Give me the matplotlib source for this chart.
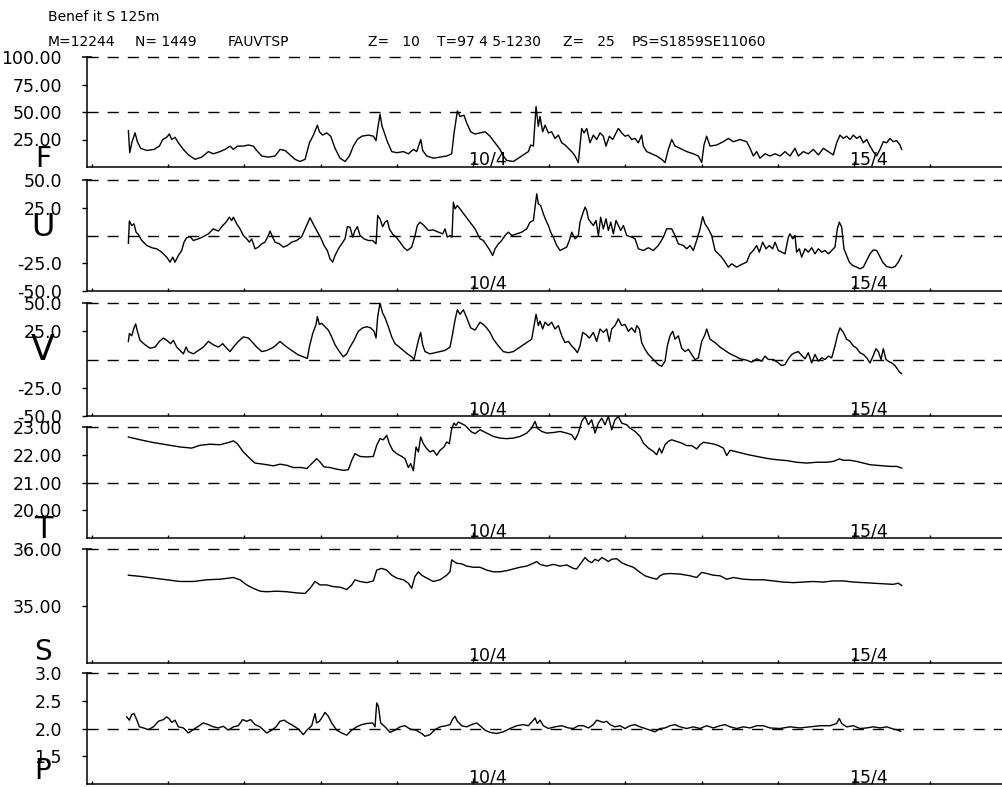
import matplotlib
matplotlib.use("Agg")
import matplotlib.pyplot as plt
from matplotlib.ticker import FixedLocator, NullFormatter

plt.rcParams['font.family'] = ['DejaVu Sans']

# ---------------- data (time in days of April 1997) ----------------
F_days = [5.477, 5.495, 5.525, 5.565, 5.595, 5.639, 5.718, 5.814, 5.884, 5.928,
          5.980, 6.015, 6.046, 6.090, 6.133, 6.199, 6.265, 6.352, 6.440, 6.527,
          6.593, 6.680, 6.746, 6.811, 6.855, 6.908, 6.986, 7.052, 7.118, 7.161,
          7.227, 7.314, 7.402, 7.468, 7.533, 7.599, 7.664, 7.730, 7.796, 7.853,
          7.905, 7.958, 7.984, 8.027, 8.080, 8.132, 8.189, 8.255, 8.321, 8.377,
          8.430, 8.482, 8.539, 8.627, 8.692, 8.727, 8.749, 8.780, 8.806, 8.832,
          8.876, 8.933, 8.999, 9.086, 9.152, 9.217, 9.261, 9.314, 9.340, 9.392,
          9.480, 9.567, 9.655, 9.720, 9.751, 9.795, 9.830, 9.882, 9.917, 9.970,
          10.026,
          10.092, 10.158, 10.223, 10.289, 10.354, 10.398, 10.442, 10.529, 10.595, 10.661,
          10.726, 10.757, 10.792, 10.827, 10.857, 10.879, 10.914, 10.945, 10.989, 11.032,
          11.076, 11.120, 11.164, 11.207, 11.251, 11.295, 11.339, 11.382, 11.426, 11.457,
          11.492, 11.535, 11.579, 11.623, 11.667, 11.710, 11.745, 11.789, 11.833, 11.885,
          11.907, 11.951, 11.995, 12.038, 12.082, 12.126, 12.170, 12.213, 12.235, 12.279,
          12.345, 12.410, 12.476, 12.520, 12.563, 12.607, 12.651, 12.716, 12.804, 12.891,
          12.957, 13.001, 13.031, 13.066, 13.110, 13.198, 13.285, 13.351, 13.416, 13.504,
          13.591, 13.635, 13.679, 13.722, 13.766, 13.832, 13.897, 13.963, 14.029, 14.094,
          14.160, 14.225, 14.269, 14.335, 14.400, 14.466, 14.532, 14.597, 14.663, 14.728,
          14.772, 14.816, 14.860, 14.903, 14.947, 14.991, 15.035, 15.078, 15.122, 15.166,
          15.210, 15.253, 15.297, 15.341, 15.384, 15.428, 15.472, 15.516, 15.559, 15.603,
          15.625]
F_vals = [33, 13, 23, 31, 23, 17, 15, 16, 19, 25,
          27, 30, 25, 27, 22, 16, 11, 7, 9, 14,
          12, 14, 16, 19, 16, 19, 19, 20, 19, 15,
          10, 9, 10, 16, 15, 11, 7, 5, 7, 22,
          29, 38, 32, 29, 31, 28, 17, 8, 5, 10,
          19, 25, 28, 29, 28, 24, 35, 48, 37, 32,
          23, 14, 13, 14, 12, 16, 14, 25, 15, 10,
          8, 9, 10, 12, 31, 51, 46, 47, 40, 32,
          30,
          31, 32, 28, 22, 16, 10, 6, 5, 8, 11,
          14, 20, 19, 55, 37, 46, 32, 38, 31, 32,
          26, 29, 22, 20, 17, 14, 10, 4, 35, 31,
          35, 22, 29, 25, 31, 28, 19, 28, 25, 32,
          35, 31, 28, 29, 25, 26, 22, 29, 19, 14,
          12, 10, 7, 4, 16, 25, 19, 17, 14, 12,
          10, 4, 20, 28, 19, 20, 23, 26, 23, 25,
          23, 17, 10, 14, 8, 12, 10, 12, 10, 14,
          10, 17, 10, 14, 12, 16, 11, 17, 14, 11,
          22, 29, 26, 28, 25, 29, 26, 28, 22, 25,
          19, 14, 10, 16, 23, 22, 26, 23, 24, 20,
          16]

U_days = [5.477, 5.490, 5.521, 5.551, 5.578, 5.608, 5.652, 5.718, 5.783, 5.849,
          5.914, 5.980, 6.024, 6.059, 6.089, 6.133, 6.177, 6.207, 6.242, 6.286,
          6.330, 6.396, 6.461, 6.527, 6.592, 6.658, 6.715, 6.759, 6.802, 6.833,
          6.855, 6.899, 6.942, 6.986, 7.030, 7.065, 7.095, 7.139, 7.183, 7.227,
          7.270, 7.314, 7.336, 7.371, 7.402, 7.458, 7.511, 7.563, 7.620, 7.686,
          7.752, 7.817, 7.861, 7.905, 7.948, 8.001, 8.045, 8.088, 8.123, 8.158,
          8.189, 8.233, 8.276, 8.320, 8.351, 8.386, 8.421, 8.451, 8.482, 8.517,
          8.569, 8.626, 8.683, 8.727, 8.749, 8.779, 8.814, 8.845, 8.876, 8.902,
          8.946, 8.998, 9.042, 9.094, 9.138, 9.195, 9.239, 9.269, 9.304, 9.357,
          9.414, 9.479, 9.545, 9.602, 9.632, 9.663, 9.698, 9.724, 9.742, 9.764,
          9.794, 9.829, 9.895, 9.960, 10.026,
          10.092, 10.136, 10.179, 10.223, 10.258, 10.289, 10.333, 10.376, 10.420, 10.464,
          10.508, 10.573, 10.639, 10.704, 10.748, 10.792, 10.814, 10.836, 10.857, 10.888,
          10.923, 10.958, 10.989, 11.019, 11.054, 11.098, 11.142, 11.186, 11.229, 11.264,
          11.295, 11.339, 11.382, 11.404, 11.439, 11.470, 11.492, 11.514, 11.544, 11.579,
          11.614, 11.645, 11.675, 11.710, 11.745, 11.776, 11.807, 11.842, 11.877, 11.907,
          11.938, 11.973, 12.017, 12.082, 12.126, 12.170, 12.235, 12.301, 12.366, 12.432,
          12.498, 12.541, 12.607, 12.651, 12.694, 12.760, 12.804, 12.848, 12.891, 12.935,
          12.979, 13.014, 13.044, 13.088, 13.132, 13.176, 13.219, 13.263, 13.307, 13.351,
          13.394, 13.460, 13.526, 13.591, 13.635, 13.679, 13.722, 13.757, 13.801, 13.845,
          13.889, 13.932, 13.963, 14.007, 14.050, 14.094, 14.138, 14.160, 14.195, 14.225,
          14.247, 14.282, 14.313, 14.357, 14.400, 14.444, 14.488, 14.532, 14.575, 14.619,
          14.663, 14.707, 14.750, 14.781, 14.807, 14.838, 14.868, 14.903, 14.938, 14.982,
          15.035, 15.078, 15.122, 15.166, 15.210, 15.253, 15.297, 15.332, 15.376, 15.428,
          15.494, 15.538, 15.581, 15.625]
U_vals = [-7, 13, 9, 10.5, 3, 1, -4.5, -9, -11, -12,
          -15, -19.5, -24, -19.5, -24, -18, -13.5, -6, -2, -1,
          -4.5, -3, -1, 1.5, 6, 4, 9, 12, 16.5, 13.5,
          16.5, 10.5, 6, 0, -3, -6, -3, -12, -10.5, -7.5,
          -6, 0, 4, -1.5, -6, -7.5, -10.5, -9, -6, -4.5,
          -1, 9, 16, 10, 4.5, -2, -9, -13.5, -21, -24,
          -18, -12, -7.5, -3, 8, 7.5, -1.5, 4.5, 8, 0,
          -3, -4.5, -4.5, -7.5, 18, 15, 8, 12, 13.5, 6,
          1, -2, -6, -11, -13.5, -10.5, 0, 9, 12, 9,
          4.5, 5, 3, 1.5, 6, -1.5, 0, -1.5, 30, 24,
          27, 24, 18, 12, 6,
          -3, -4.5, -9, -13.5, -18, -12, -7.5, -4.5, 0, 3,
          0, 1.5, 3, 6, 12, 13.5, 25.5, 37.5, 28.5, 27,
          19.5, 13.5, 9, 3, -1.5, -9, -13.5, -12, -10.5, -4.5,
          3, -3, 0, 12, 19.5, 25.5, 22.5, 15, 12, 9,
          13.5, 0, 16.5, 6, 15, 4.5, 12, 1.5, 13.5, 9,
          4.5, 9, 0, -1.5, -3, -12, -13.5, -11, -13.5, -9,
          -1.5, 6, 6, 0, -7.5, -9, -12, -9, -13.5, -4.5,
          6, 17, 10.5, 6, 0, -13.5, -16.5, -19.5, -24, -28.5,
          -25.5, -28.5, -26, -24, -16.5, -13.5, -9, -15, -6, -12,
          -9, -12, -6, -13.5, -15, -16.5, -1.5, 1.5, -3, 0,
          -15, -12, -19.5, -12, -15, -11, -16.5, -12, -15, -13.5,
          -16.5, -13.5, -10.5, 6, 12, 7.5, -12, -18, -24, -27,
          -28.5, -30, -28.5, -22.5, -16.5, -13, -13.5, -18, -24, -28,
          -29, -28, -24, -18]

V_days = [5.477, 5.490, 5.521, 5.551, 5.573, 5.595, 5.630, 5.696, 5.761, 5.827,
          5.884, 5.936, 5.980, 6.032, 6.067, 6.111, 6.155, 6.199, 6.234, 6.264,
          6.330, 6.396, 6.461, 6.527, 6.592, 6.658, 6.715, 6.767, 6.811, 6.855,
          6.920, 6.986, 7.052, 7.095, 7.161, 7.227, 7.292, 7.358, 7.402, 7.467,
          7.520, 7.577, 7.642, 7.708, 7.773, 7.826, 7.852, 7.896, 7.940, 7.957,
          7.983, 8.014, 8.058, 8.101, 8.145, 8.189, 8.246, 8.298, 8.342, 8.386,
          8.438, 8.495, 8.552, 8.604, 8.657, 8.701, 8.727, 8.749, 8.779, 8.814,
          8.845, 8.889, 8.933, 8.976, 9.033, 9.086, 9.138, 9.195, 9.226, 9.252,
          9.283, 9.313, 9.339, 9.370, 9.435, 9.501, 9.567, 9.632, 9.698, 9.733,
          9.764, 9.794, 9.829, 9.873, 9.917, 9.969, 10.026,
          10.092, 10.136, 10.179, 10.223, 10.267, 10.333, 10.398, 10.464, 10.529, 10.595,
          10.661, 10.726, 10.770, 10.801, 10.827, 10.857, 10.879, 10.914, 10.945, 10.989,
          11.032, 11.076, 11.120, 11.164, 11.207, 11.251, 11.295, 11.339, 11.369, 11.404,
          11.439, 11.483, 11.527, 11.579, 11.623, 11.667, 11.710, 11.754, 11.789, 11.820,
          11.863, 11.907, 11.951, 11.995, 12.038, 12.082, 12.126, 12.148, 12.183, 12.213,
          12.257, 12.301, 12.345, 12.388, 12.432, 12.476, 12.520, 12.550, 12.585, 12.620,
          12.651, 12.694, 12.738, 12.782, 12.826, 12.869, 12.913, 12.957, 13.001, 13.044,
          13.066, 13.110, 13.176, 13.241, 13.307, 13.373, 13.438, 13.504, 13.591, 13.657,
          13.722, 13.788, 13.832, 13.876, 13.941, 14.007, 14.050, 14.094, 14.138, 14.182,
          14.225, 14.269, 14.313, 14.357, 14.400, 14.444, 14.488, 14.532, 14.575, 14.619,
          14.663, 14.707, 14.750, 14.781, 14.816, 14.860, 14.903, 14.947, 14.991, 15.035,
          15.078, 15.122, 15.166, 15.210, 15.253, 15.288, 15.319, 15.354, 15.384, 15.419,
          15.450, 15.494, 15.538, 15.568, 15.595, 15.625]
V_vals = [16, 23, 21, 28, 31.5, 25, 17, 13, 10, 11,
          16, 19, 17, 14, 17, 11, 8, 5, 11, 7,
          5, 8, 11, 16, 13, 11, 14, 10, 7, 11,
          16, 20, 19, 16, 11, 7, 8, 10, 12, 16,
          13, 10, 7, 4, 2.4, 1, 11, 23, 31, 38,
          31, 32, 29, 26, 20, 13, 7, 2.4, 5, 11,
          17, 25, 28, 29, 28, 25, 19, 38, 50, 41,
          37, 29, 20, 14, 11, 8, 5, 2.4, 0, 8,
          17, 24, 13, 7, 5, 6, 7, 8, 11, 23,
          35, 44, 40, 44, 37, 28, 26,
          33, 31, 28, 24, 18, 12, 7, 6, 7, 10,
          13, 16, 18, 30, 40, 30, 34, 27, 33, 30,
          33, 27, 30, 21, 15, 16, 12, 9, 6, 12,
          24, 22, 19, 24, 16, 27, 24, 27, 16, 27,
          30, 36, 30, 31, 25, 28, 24, 30, 27, 15,
          9, 4.5, 1.5, -1.5, -4.5, -6, -1.5, 12, 21, 25,
          18, 21, 10, 7, 9, 4.5, 0, 1.5, 16, 22,
          27, 18, 15, 11, 8, 5, 3, 0.6, -0.6, -2.4,
          0.6, -1.5, 3, 0, 0, -3, -5.4, -4.5, 0.6, 4.5,
          6, 7, 3.6, 0.6, 6, -3, 4.5, -1.5, 1.5, 0,
          3, 1.5, 12, 21, 28, 24, 18, 16, 12, 10,
          6, 4.5, 1.5, -3, 3.6, 9.5, 7, 0, 9.5, 0,
          -1.5, -3, -5.4, -8.3, -11, -12.5]

T_days = [5.477, 5.630, 5.805, 5.980, 6.155, 6.308, 6.417, 6.549, 6.680, 6.789,
          6.855, 6.907, 6.986, 7.074, 7.139, 7.249, 7.380, 7.467, 7.555, 7.642,
          7.752, 7.817, 7.883, 7.948, 7.992, 8.045, 8.123, 8.211, 8.298, 8.364,
          8.408, 8.451, 8.517, 8.604, 8.692, 8.736, 8.779, 8.823, 8.867, 8.902,
          8.946, 8.998, 9.064, 9.107, 9.151, 9.182, 9.217, 9.252, 9.283, 9.313,
          9.348, 9.392, 9.436, 9.479, 9.523, 9.567, 9.619, 9.654, 9.689, 9.720,
          9.750, 9.777, 9.807, 9.851, 9.895, 9.938, 9.982, 10.026,
          10.092, 10.179, 10.267, 10.354, 10.442, 10.529, 10.617, 10.704, 10.770, 10.814,
          10.844, 10.901, 10.967, 11.054, 11.142, 11.229, 11.295, 11.339, 11.382, 11.426,
          11.470, 11.514, 11.557, 11.601, 11.645, 11.689, 11.732, 11.776, 11.820, 11.863,
          11.907, 11.951, 12.017, 12.060, 12.126, 12.192, 12.235, 12.301, 12.366, 12.410,
          12.445, 12.476, 12.520, 12.563, 12.607, 12.673, 12.738, 12.804, 12.869, 12.935,
          12.979, 13.023, 13.088, 13.154, 13.219, 13.285, 13.329, 13.373, 13.438, 13.526,
          13.613, 13.722, 13.854, 13.985, 14.116, 14.247, 14.379, 14.510, 14.641, 14.728,
          14.807, 14.860, 14.947, 15.035, 15.122, 15.210, 15.297, 15.384, 15.472, 15.559,
          15.625]
T_vals = [22.64, 22.54, 22.44, 22.36, 22.28, 22.24, 22.34, 22.38, 22.36, 22.44,
          22.50, 22.40, 22.10, 21.86, 21.70, 21.66, 21.60, 21.66, 21.62, 21.54,
          21.54, 21.50, 21.68, 21.86, 21.74, 21.56, 21.54, 21.48, 21.44, 21.46,
          21.80, 22.04, 21.94, 21.92, 21.94, 22.34, 22.58, 22.54, 22.70, 22.40,
          22.16, 22.04, 21.94, 21.86, 21.54, 21.68, 21.42, 22.28, 22.10, 22.64,
          22.40, 22.22, 22.10, 22.16, 21.98, 22.16, 22.28, 22.46, 22.40, 22.94,
          23.14, 23.06, 23.18, 23.12, 23.06, 22.94, 22.82, 22.76,
          22.90, 22.78, 22.66, 22.60, 22.58, 22.60, 22.66, 22.78, 22.96, 23.20,
          22.96, 22.84, 22.78, 22.80, 22.84, 22.78, 22.72, 22.54, 22.78, 23.20,
          23.38, 23.08, 23.26, 22.78, 23.14, 23.32, 23.08, 23.38, 22.90, 23.26,
          23.38, 23.14, 23.08, 22.96, 22.84, 22.66, 22.42, 22.24, 22.12, 22.00,
          22.24, 22.06, 22.36, 22.48, 22.54, 22.48, 22.42, 22.33, 22.33, 22.21,
          22.36, 22.45, 22.42, 22.39, 22.33, 22.24, 21.97, 22.16, 22.12, 22.06,
          22.00, 21.94, 21.87, 21.82, 21.79, 21.73, 21.70, 21.73, 21.73, 21.76,
          21.85, 21.80, 21.80, 21.76, 21.70, 21.64, 21.62, 21.60, 21.58, 21.58,
          21.52]

S_days = [5.477, 5.630, 5.805, 5.980, 6.155, 6.330, 6.505, 6.680, 6.855, 6.942,
          7.030, 7.117, 7.205, 7.292, 7.423, 7.555, 7.686, 7.795, 7.861, 7.926,
          7.992, 8.080, 8.167, 8.255, 8.342, 8.408, 8.451, 8.517, 8.604, 8.692,
          8.736, 8.801, 8.867, 8.933, 8.998, 9.086, 9.151, 9.195, 9.239, 9.283,
          9.326, 9.392, 9.479, 9.567, 9.654, 9.698, 9.720, 9.750, 9.785, 9.851,
          9.917, 10.004,
          10.092, 10.179, 10.267, 10.354, 10.442, 10.529, 10.617, 10.704, 10.792, 10.836,
          10.879, 10.967, 11.054, 11.142, 11.229, 11.317, 11.360, 11.404, 11.470, 11.514,
          11.557, 11.601, 11.645, 11.689, 11.732, 11.776, 11.820, 11.885, 11.951, 12.017,
          12.104, 12.192, 12.257, 12.323, 12.410, 12.454, 12.498, 12.585, 12.716, 12.848,
          12.935, 13.001, 13.066, 13.154, 13.241, 13.329, 13.416, 13.548, 13.679, 13.810,
          13.941, 14.072, 14.203, 14.335, 14.466, 14.597, 14.728, 14.860, 14.991, 15.122,
          15.253, 15.384, 15.516, 15.581, 15.625]
S_vals = [35.54, 35.52, 35.49, 35.46, 35.43, 35.43, 35.46, 35.47, 35.50, 35.46,
          35.37, 35.31, 35.26, 35.25, 35.26, 35.25, 35.23, 35.22, 35.31, 35.43,
          35.37, 35.37, 35.34, 35.33, 35.29, 35.37, 35.46, 35.43, 35.41, 35.44,
          35.63, 35.66, 35.63, 35.54, 35.49, 35.46, 35.40, 35.31, 35.52, 35.60,
          35.54, 35.49, 35.43, 35.46, 35.54, 35.60, 35.81, 35.78, 35.75, 35.74,
          35.70, 35.68,
          35.68, 35.63, 35.60, 35.60, 35.62, 35.65, 35.68, 35.70, 35.75, 35.78,
          35.73, 35.70, 35.73, 35.70, 35.72, 35.66, 35.65, 35.73, 35.85, 35.79,
          35.76, 35.82, 35.79, 35.85, 35.82, 35.78, 35.82, 35.83, 35.76, 35.72,
          35.68, 35.59, 35.53, 35.50, 35.47, 35.53, 35.56, 35.57, 35.56, 35.53,
          35.50, 35.59, 35.57, 35.54, 35.53, 35.47, 35.50, 35.47, 35.46, 35.46,
          35.44, 35.42, 35.41, 35.42, 35.43, 35.42, 35.44, 35.44, 35.42, 35.41,
          35.40, 35.39, 35.38, 35.40, 35.36]

P_days = [5.455, 5.490, 5.521, 5.551, 5.586, 5.621, 5.674, 5.740, 5.805, 5.871,
          5.936, 5.980, 6.015, 6.046, 6.089, 6.133, 6.199, 6.264, 6.330, 6.396,
          6.461, 6.527, 6.592, 6.658, 6.724, 6.789, 6.855, 6.920, 6.977, 7.030,
          7.082, 7.139, 7.205, 7.292, 7.358, 7.415, 7.467, 7.520, 7.577, 7.642,
          7.708, 7.773, 7.826, 7.883, 7.926, 7.948, 7.983, 8.014, 8.058, 8.101,
          8.145, 8.211, 8.276, 8.342, 8.408, 8.473, 8.539, 8.604, 8.683, 8.714,
          8.736, 8.758, 8.788, 8.845, 8.911, 8.976, 9.042, 9.107, 9.173, 9.252,
          9.326, 9.370, 9.435, 9.501, 9.567, 9.646, 9.698, 9.733, 9.764, 9.794,
          9.851, 9.917, 9.982, 10.048,
          10.092, 10.158, 10.223, 10.311, 10.398, 10.486, 10.573, 10.661, 10.726, 10.792,
          10.814, 10.844, 10.879, 10.923, 10.989, 11.076, 11.164, 11.251, 11.317, 11.382,
          11.448, 11.514, 11.579, 11.623, 11.667, 11.710, 11.754, 11.798, 11.863, 11.929,
          11.995, 12.060, 12.126, 12.192, 12.257, 12.323, 12.388, 12.454, 12.520, 12.585,
          12.651, 12.716, 12.804, 12.891, 12.979, 13.066, 13.154, 13.241, 13.307, 13.373,
          13.460, 13.548, 13.635, 13.722, 13.810, 13.897, 14.029, 14.160, 14.291, 14.422,
          14.554, 14.685, 14.772, 14.807, 14.838, 14.903, 14.991, 15.078, 15.166, 15.253,
          15.341, 15.428, 15.516, 15.581, 15.612]
P_vals = [2.21, 2.15, 2.25, 2.27, 2.16, 2.03, 2.01, 1.98, 2.03, 2.13,
          2.16, 2.21, 2.17, 2.11, 2.15, 2.03, 2.01, 1.92, 1.98, 2.04,
          2.10, 2.07, 2.03, 2.01, 2.04, 1.97, 2.03, 2.05, 2.16, 2.13,
          2.16, 2.07, 2.03, 1.92, 1.97, 2.03, 2.13, 2.15, 2.10, 2.05,
          1.99, 1.89, 1.98, 2.05, 2.27, 2.10, 2.13, 2.19, 2.29, 2.22,
          2.10, 1.97, 1.92, 1.88, 1.97, 2.03, 2.07, 2.09, 2.10, 2.03,
          2.46, 2.40, 2.10, 2.03, 1.93, 1.97, 2.03, 2.05, 1.99, 1.97,
          1.91, 1.86, 1.89, 1.98, 2.03, 2.05, 2.07, 2.17, 2.22, 2.13,
          2.05, 2.03, 2.07, 2.10,
          2.05, 1.97, 1.93, 1.91, 1.94, 2.00, 2.05, 2.07, 2.05, 2.15,
          2.19, 2.09, 2.15, 2.05, 2.00, 2.03, 2.05, 2.01, 2.00, 2.05,
          2.05, 2.01, 2.07, 2.15, 2.13, 2.11, 2.13, 2.07, 2.03, 2.05,
          2.00, 2.05, 2.07, 2.03, 2.00, 1.97, 1.94, 2.00, 2.01, 2.05,
          2.07, 2.03, 2.00, 2.03, 2.00, 2.05, 2.01, 2.05, 2.07, 2.03,
          2.00, 2.03, 2.01, 2.05, 2.05, 2.01, 2.00, 2.03, 2.01, 2.03,
          2.05, 2.05, 2.09, 2.18, 2.09, 2.03, 2.05, 2.00, 2.01, 2.03,
          2.01, 2.03, 1.99, 1.97, 1.95]

F_ticks = [100, 75, 50, 25]
U_ticks = [50, 25, -25, -50]
V_ticks = [50, 25, -25, -50]
T_ticks = [23, 22, 21, 20]
S_ticks = [36, 35]
P_ticks = [3.0, 2.5, 2.0, 1.5]

DAY_TICKS = [5, 6, 7, 8, 9, 10, 11, 12, 13, 14, 15, 16]
DATE_LABELS = [(10, "10/4"), (15, "15/4")]

HEADER_1 = "Benef it S 125m"
HEADER_2 = [(48, "M=12244"), (135, "N= 1449"), (228, "FAUVTSP"),
            (368, "Z=   10"), (437, "T=97 4 5-1230"), (563, "Z=   25"),
            (632, "PS=S1859SE11060")]

# ---------------- layout ----------------
W, H = 1003, 787
DPI = 100
fig = plt.figure(figsize=(W / DPI, H / DPI), dpi=DPI)
fig.patch.set_facecolor('white')

AX_LEFT = 87
X_LO, X_HI = 4.934, 16.955
PX = 72.0 / DPI  # points per pixel

panels = [
    dict(d=F_days, v=F_vals, ylim=(0, 100), ticks=F_ticks, fmt='{:.2f}',
         dashed=[100, 50], letter='F', ly=0, lup=0, lsize=20, box=(57, 167), clip=True),
    dict(d=U_days, v=U_vals, ylim=(-50, 50), ticks=U_ticks, fmt='{:.1f}',
         dashed=[50, 0], letter='U', ly=0, lup=0, lsize=23, box=(180, 291), clip=True),
    dict(d=V_days, v=V_vals, ylim=(-50, 50), ticks=V_ticks, fmt='{:.1f}',
         dashed=[50, 0], letter='V', ly=0, lup=0, lsize=25, box=(303, 416), clip=True),
    dict(d=T_days, v=T_vals, ylim=(19, 23), ticks=T_ticks, fmt='{:.2f}',
         dashed=[23, 21], letter='T', ly=19, lup=0, lsize=22, box=(427, 538), clip=False),
    dict(d=S_days, v=S_vals, ylim=(34, 36), ticks=S_ticks, fmt='{:.2f}',
         dashed=[36], letter='S', ly=34, lup=3, lsize=20, box=(549, 663), clip=True),
    dict(d=P_days, v=P_vals, ylim=(1.0, 3.0), ticks=P_ticks, fmt='{:.1f}',
         dashed=[3.0, 2.0], letter='P', ly=1.0, lup=5, lsize=20, box=(673, 784), clip=True),
]

for p in panels:
    top, bot = p['box']
    ax = fig.add_axes([AX_LEFT / W, 1 - bot / H, (W - AX_LEFT) / W, (bot - top) / H])
    ax.set_xlim(X_LO, X_HI)
    ax.set_ylim(*p['ylim'])
    ax.set_facecolor('none')
    for s in ('top', 'right'):
        ax.spines[s].set_visible(False)
    for s in ('left', 'bottom'):
        ax.spines[s].set_linewidth(1.1)
        ax.spines[s].set_color('black')

    for y in p['dashed']:
        ax.axhline(y, color='black', lw=1.0, dashes=(8, 6.5), clip_on=False, zorder=1)

    ax.plot(p['d'], p['v'], color='black', lw=1.0, clip_on=p['clip'], zorder=3)

    # y ticks
    ax.yaxis.set_major_locator(FixedLocator(p['ticks']))
    ax.set_yticklabels([p['fmt'].format(t) for t in p['ticks']])
    ax.tick_params(axis='y', direction='out', length=5 * PX, width=1.0,
                   pad=20 * PX, labelsize=12.5, colors='black')
    # cap at the top of the left axis
    for t in ax.yaxis.get_major_ticks():
        if abs(t.get_loc() - p['ylim'][1]) < 1e-9:
            t.tick1line.set_marker('_')
            t.tick1line.set_markersize(10 * PX)
            t.tick1line.set_markeredgewidth(1.1)

    # x ticks (days)
    ax.xaxis.set_major_locator(FixedLocator([d for d, _ in DATE_LABELS]))
    ax.xaxis.set_minor_locator(FixedLocator(DAY_TICKS))
    ax.xaxis.set_major_formatter(NullFormatter())
    ax.tick_params(axis='x', which='major', direction='in', length=6 * PX, width=1.0)
    ax.tick_params(axis='x', which='minor', direction='in', length=3 * PX, width=1.0)

    for d, lab in DATE_LABELS:
        ax.annotate(lab, xy=(d, p['ylim'][0]), xytext=(-5 * PX, 2 * PX),
                    textcoords='offset points', ha='left', va='baseline',
                    fontsize=12.5, color='black')

    ax.annotate(p['letter'], xy=(0, p['ly']), xycoords=('axes fraction', 'data'),
                xytext=(-44 * PX, p['lup'] * PX), textcoords='offset points',
                ha='center', va='baseline', fontsize=p['lsize'], color='black',
                annotation_clip=False)

fig.text(48 / W, 1 - 17 / H, HEADER_1, fontsize=10, ha='left', va='center')
for x, s in HEADER_2:
    fig.text(x / W, 1 - 42 / H, s, fontsize=10, ha='left', va='center')

fig.savefig('out.png', dpi=DPI, facecolor='white')
